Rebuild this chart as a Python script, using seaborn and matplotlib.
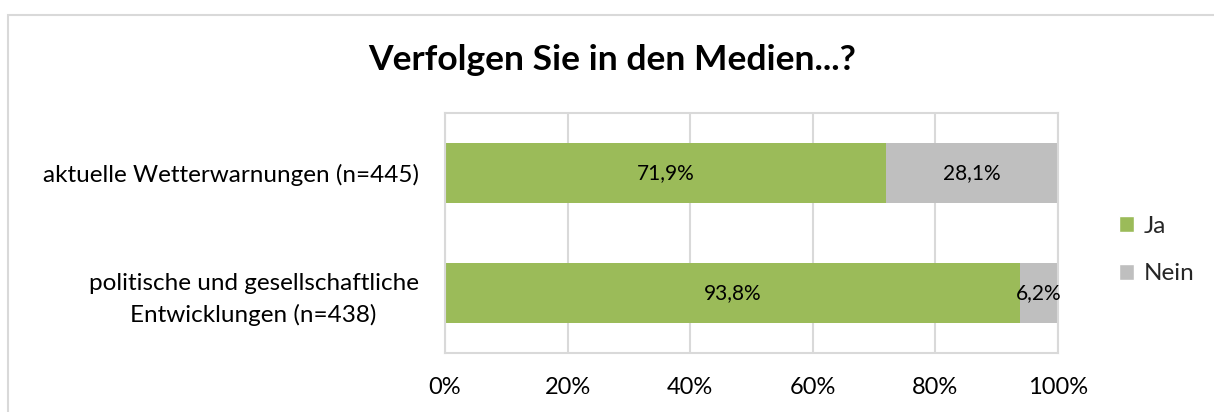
import matplotlib
matplotlib.use("Agg")
import matplotlib.pyplot as plt
import seaborn as sns
import pandas as pd
from matplotlib.patches import Patch, Rectangle

categories = ["aktuelle Wetterwarnungen (n=445)",
              "politische und gesellschaftliche\nEntwicklungen (n=438)"]
ja = [71.9, 93.8]
nein = [28.1, 6.2]
series_names = ["Ja", "Nein"]
title = "Verfolgen Sie in den Medien...?"
xticks = [0, 20, 40, 60, 80, 100]

GREEN = "#9BBB59"
GREY = "#BFBFBF"
GRID = "#D9D9D9"

sns.set_theme(style="white")
plt.rcParams['font.family'] = ['Lato', 'DejaVu Sans']

df = pd.DataFrame({"cat": categories, "ja": ja, "nein": nein})
df["total"] = df["ja"] + df["nein"]

fig = plt.figure(figsize=(12.14, 4.12), dpi=100)
ax = fig.add_axes([445/1214, 1-353/412, (1058-445)/1214, 240/412])

sns.barplot(data=df, y="cat", x="total", color=GREY, width=0.5, ax=ax, orient="h",
            saturation=1, linewidth=0)
sns.barplot(data=df, y="cat", x="ja", color=GREEN, width=0.5, ax=ax, orient="h",
            saturation=1, linewidth=0)

ax.set_xlim(0, 100)
ax.set_ylim(1.5, -0.5)
ax.set_xticks(xticks)
ax.set_xticklabels([f"{t}%" for t in xticks], fontsize=17, color="#000000")
ax.tick_params(axis="x", pad=17, length=0)
ax.tick_params(axis="y", pad=19, length=0)
ax.set_yticklabels(categories, fontsize=17.5, color="#000000", ha="right",
                   multialignment="center", linespacing=1.5)
ax.set_xlabel("")
ax.set_ylabel("")
ax.set_axisbelow(True)
ax.xaxis.grid(True, color=GRID, linewidth=1.5)
ax.yaxis.grid(False)
for s in ax.spines.values():
    s.set_color(GRID)
    s.set_linewidth(1.5)

for i in range(len(categories)):
    ax.text(ja[i] / 2, i, f"{ja[i]:.1f}%".replace(".", ","), ha="center", va="center",
            fontsize=15, color="#000000")
    ax.text(ja[i] + nein[i] / 2, i, f"{nein[i]:.1f}%".replace(".", ","), ha="center",
            va="center", fontsize=15, color="#000000")

handles = [Patch(facecolor=GREEN, label=series_names[0]),
           Patch(facecolor=GREY, label=series_names[1])]
fig.legend(handles=handles, loc="center left", bbox_to_anchor=(1119/1214, 1-250/412),
           frameon=False, fontsize=17.5, handlelength=0.6, handleheight=0.6,
           handletextpad=0.4, labelspacing=1.1, borderaxespad=0, borderpad=0)

fig.text(612/1214, 1-60/412, title, ha="center", va="center", fontsize=25.5,
         fontweight="bold", color="#000000")

fig.patches.append(Rectangle((8/1214, -0.05), 1.1, 1 - 15/412 + 0.05,
                             transform=fig.transFigure, fill=False,
                             edgecolor=GRID, linewidth=1.5))

fig.savefig("out.png", dpi=100)
